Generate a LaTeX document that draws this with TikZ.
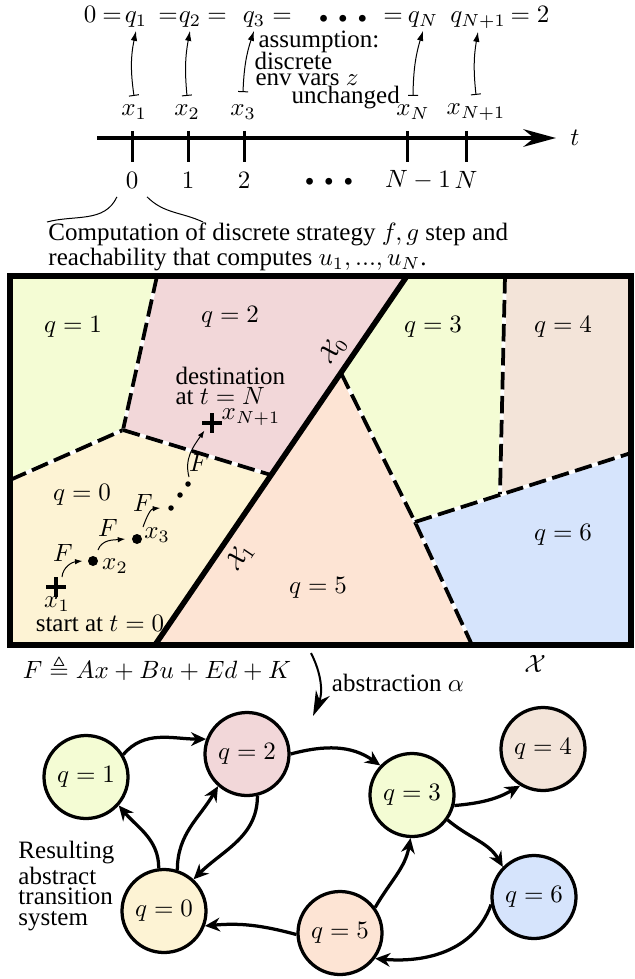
\documentclass[tikz,border=0pt]{standalone}
\usepackage{amsmath,amssymb}
\usepackage[no-math]{fontspec}
\setmainfont{Liberation Serif}
\usetikzlibrary{shapes.geometric,arrows.meta,calc}
\definecolor{cA}{RGB}{244,252,212}
\definecolor{cB}{RGB}{242,215,217}
\definecolor{cZ}{RGB}{253,243,212}
\definecolor{cF}{RGB}{253,228,212}
\definecolor{cD}{RGB}{243,228,217}
\definecolor{cS}{RGB}{214,228,252}
\newcommand{\bigdots}{{\fontsize{6.5}{6.5}\selectfont$\bullet\hspace{2.2pt}\bullet\hspace{2.2pt}\bullet$}}
\begin{document}
\begin{tikzpicture}[x=0.4pt,y=-0.4pt,
  eqn/.style={anchor=base,inner sep=1pt},
  tarrow/.style={line width=0.4pt,{Bar[width=4pt]}-{Latex[length=4pt,width=2.6pt]}},
  dashb/.style={line width=1.5pt,dash pattern=on 7pt off 2.6pt,preaction={draw=white,solid,line width=1.5pt}},
  farrow/.style={line width=0.4pt,-{Latex[length=3pt,width=2.2pt]}},
  gnode/.style={ellipse,draw,line width=1.3pt,minimum width=33.6pt,minimum height=33.2pt,inner sep=0pt},
  gedge/.style={line width=1.3pt,-{Stealth[length=6pt,width=5.5pt]}},
  bigdot/.style={circle,fill,inner sep=0pt,minimum size=4pt},
  smalldot/.style={circle,fill,inner sep=0pt,minimum size=2.2pt},
  tight/.style={align=left,inner sep=0pt,font=\fontsize{10}{8}\selectfont}
]
\useasboundingbox (0,0) rectangle (634,979);

% ---------- top: sequence of q ----------
\node[eqn] (e0) at (90,23) {$0$};
\node[eqn] (e1) at (112,23) {$=$};
\node[eqn] (q1) at (136,23) {$q_1$};
\node[eqn] (e2) at (168,23) {$=$};
\node[eqn] (q2) at (190,23) {$q_2$};
\node[eqn] (e3) at (217,23) {$=$};
\node[eqn] (q3) at (254,23) {$q_3$};
\node[eqn] (e4) at (282,23) {$=$};
\node[eqn] (dts) at (343,23) {\bigdots};
\node[eqn] (e5) at (393,23) {$=$};
\node[eqn] (qN) at (423,23) {$q_N$};
\node[eqn] (qN1) at (478,23) {$q_{N+1}$};
\node[eqn] (e6) at (530,23) {$=2$};

\node (x1) at (134,112) {$x_1$};
\node (x2) at (187,112) {$x_2$};
\node (x3) at (243,112) {$x_3$};
\node (xN) at (413,112) {$x_N$};
\node (xN1) at (476,112) {$x_{N+1}$};

\draw[tarrow] (x1.north) to[bend left=10] (q1.south);
\draw[tarrow] (x2.north) to[bend left=8] (q2.south);
\draw[tarrow] ([yshift=1.5pt]x3.north) to[bend left=8] (q3.south);
\draw[tarrow] (xN.north) to[bend left=8] (qN.south);
\draw[tarrow] (xN1.north) to[bend left=8] (qN1.south);

\node[anchor=west,inner sep=0pt] (as1) at (258,42) {assumption:};
\node[anchor=west,inner sep=0pt] (as2) at (254,61) {discrete};
\node[anchor=west,inner sep=0pt] (as3) at (255,80) {env vars $z$};
\node[anchor=west,inner sep=0pt] (as4) at (291,98) {unchanged};

% ---------- time axis ----------
\coordinate (axs) at (97,138);
\coordinate (axe) at (556,138);
\draw[line width=1.7pt,-{Stealth[length=13pt,width=7pt]}] (axs) -- (axe);
\node (tl) at (575,138) {$t$};
\foreach \xx in {132,188,244,407,466}{
  \draw[line width=1.2pt] (\xx,131) -- (\xx,162);
}
\node (t0) at (132,180) {$0$};
\node (t1) at (188,180) {$1$};
\node (t2) at (244,180) {$2$};
\node (tdots) at (329,182) {\bigdots};
\node (tN1) at (418,180) {$N-1$};
\node (tN) at (466,180) {$N$};

\coordinate (brL) at (47,222);
\coordinate (brR) at (203,222);
\draw[line width=0.4pt] (t0.south west) to[out=-115,in=15] (brL);
\draw[line width=0.4pt] (t0.south east) to[out=-45,in=155] (brR);
\node[anchor=west,align=left,inner sep=0pt,font=\fontsize{10}{6.6}\selectfont] (comp) at (48,247)
  {Computation of discrete strategy $f,g$ step and\\reachability that computes $u_1,...,u_N$.};

% ---------- partition ----------
\fill[cA] (10,276) -- (157,276) -- (123,430) -- (10,480) -- cycle;
\fill[cB] (157,276) -- (407,276) -- (271,475) -- (123,430) -- cycle;
\fill[cZ] (10,480) -- (123,430) -- (271,475) -- (155,645) -- (10,645) -- cycle;
\fill[cF] (341,373) -- (415,522) -- (472,645) -- (155,645) -- cycle;
\fill[cA] (407,276) -- (505,276) -- (500,494) -- (415,522) -- (341,373) -- cycle;
\fill[cD] (505,276) -- (631,276) -- (631,453) -- (500,494) -- cycle;
\fill[cS] (415,522) -- (631,453) -- (631,645) -- (472,645) -- cycle;

\draw[dashb] (157,276) -- (123,430);
\draw[dashb] (10,480) -- (123,430);
\draw[dashb] (123,430) -- (271,475);
\draw[dashb] (341,373) -- (415,522);
\draw[dashb] (415,522) -- (472,645);
\draw[dashb] (415,522) -- (631,453);
\draw[dashb] (505,276) -- (500,494);
\draw[line width=2.2pt] (407,276) -- (155,645);
\draw[line width=2.4pt] (10,276) rectangle (631,645);

\node (r1) at (73,327) {$q=1$};
\node (r2) at (230,317) {$q=2$};
\node (r3) at (433,327) {$q=3$};
\node (r4) at (563,327) {$q=4$};
\node (r0) at (82,495) {$q=0$};
\node (r5) at (318,588) {$q=5$};
\node (r6) at (563,535) {$q=6$};
\node[rotate=56] (X0) at (333,350) {$\mathcal{X}_0$};
\node[rotate=56] (X1) at (240,557) {$\mathcal{X}_1$};

% trajectory
\draw[line width=1.6pt] (46,587) -- (66,587) (56,577) -- (56,597);
\coordinate (p1) at (56,587);
\draw[line width=1.6pt] (202,423) -- (222,423) (212,413) -- (212,433);
\coordinate (pN) at (212,423);
\node[bigdot] (d2) at (93,561) {};
\node[bigdot] (d3) at (137,539) {};
\node[smalldot] (s1) at (171,508) {};
\node[smalldot] (s2) at (180,495) {};
\node[smalldot] (s3) at (188,484) {};
\draw[farrow] (p1) ++(6,-10) to[out=85,in=185] ([xshift=-2pt]d2.west);
\draw[farrow] (d2) ++(5,-11) to[out=70,in=185] ([xshift=-2.5pt]d3.west);
\draw[farrow] (d3) ++(6,-12) to[out=70,in=185] ([xshift=-3pt]s1.west);
\draw[farrow] (s3) ++(1,-7) to[out=105,in=235] ([xshift=-3pt,yshift=-3pt]pN);
\node (F1) at (63,553) {$F$};
\node (F2) at (108,528) {$F$};
\node (F3) at (143,503) {$F$};
\node (F4) at (199,463) {$F$};
\node (lx1) at (57,604) {$x_1$};
\node (lx2) at (115,566) {$x_2$};
\node (lx3) at (157,535) {$x_3$};
\node (lxN1) at (251,417) {$x_{N+1}$};
\node (start) at (100,624) {start at $t=0$};
\node[tight,anchor=west] (dest) at (175,386) {destination\\at $t=N$};

% ---------- abstraction ----------
\node (Fdef) at (157,668) {$F\triangleq Ax+Bu+Ed+K$};
\node (Xall) at (535,664) {$\mathcal{X}$};
\coordinate (abs0) at (311,653);
\coordinate (abs1) at (313,716);
\draw[line width=0.8pt,-{Stealth[length=10pt,width=6pt]}] (abs0) to[bend left=25] (abs1);
\node (abs) at (398,683) {abstraction $\alpha$};

% ---------- graph ----------
\node[gnode,fill=cA] (g1) at (86,777) {$q=1$};
\node[gnode,fill=cB] (g2) at (247,754) {$q=2$};
\node[gnode,fill=cA] (g3) at (412,795) {$q=3$};
\node[gnode,fill=cD] (g4) at (543,749) {$q=4$};
\node[gnode,fill=cZ] (g0) at (164,911) {$q=0$};
\node[gnode,fill=cF] (g5) at (340,933) {$q=5$};
\node[gnode,fill=cS] (g6) at (534,897) {$q=6$};

\draw[gedge] (g1.31) to[out=50,in=180] (g2.160);
\draw[gedge] (g2.0) to[out=15,in=145] (g3.137);
\draw[gedge] (g3.-14) to[out=5,in=210] (g4.-122);
\draw[gedge] (g3.-35) to[out=-40,in=120] (g6.136);
\draw[gedge] (g6.190) to[out=250,in=-5] (g5.-36);
\draw[gedge] (g5.36) to[out=60,in=-100] (g3.-92);
\draw[gedge] (g5.182) to[out=165,in=5] (g0.-20);
\draw[gedge] (g0.97) to[out=90,in=-50] (g1.-41);
\draw[gedge] (g0.72) to[out=90,in=-120] (g2.-132);
\draw[gedge] (g2.-76) to[out=-90,in=45] (g0.47);

\node[tight,anchor=west,font=\fontsize{10}{8.2}\selectfont] (res) at (18,886) {Resulting\\abstract\\transition\\system};
\end{tikzpicture}
\end{document}
